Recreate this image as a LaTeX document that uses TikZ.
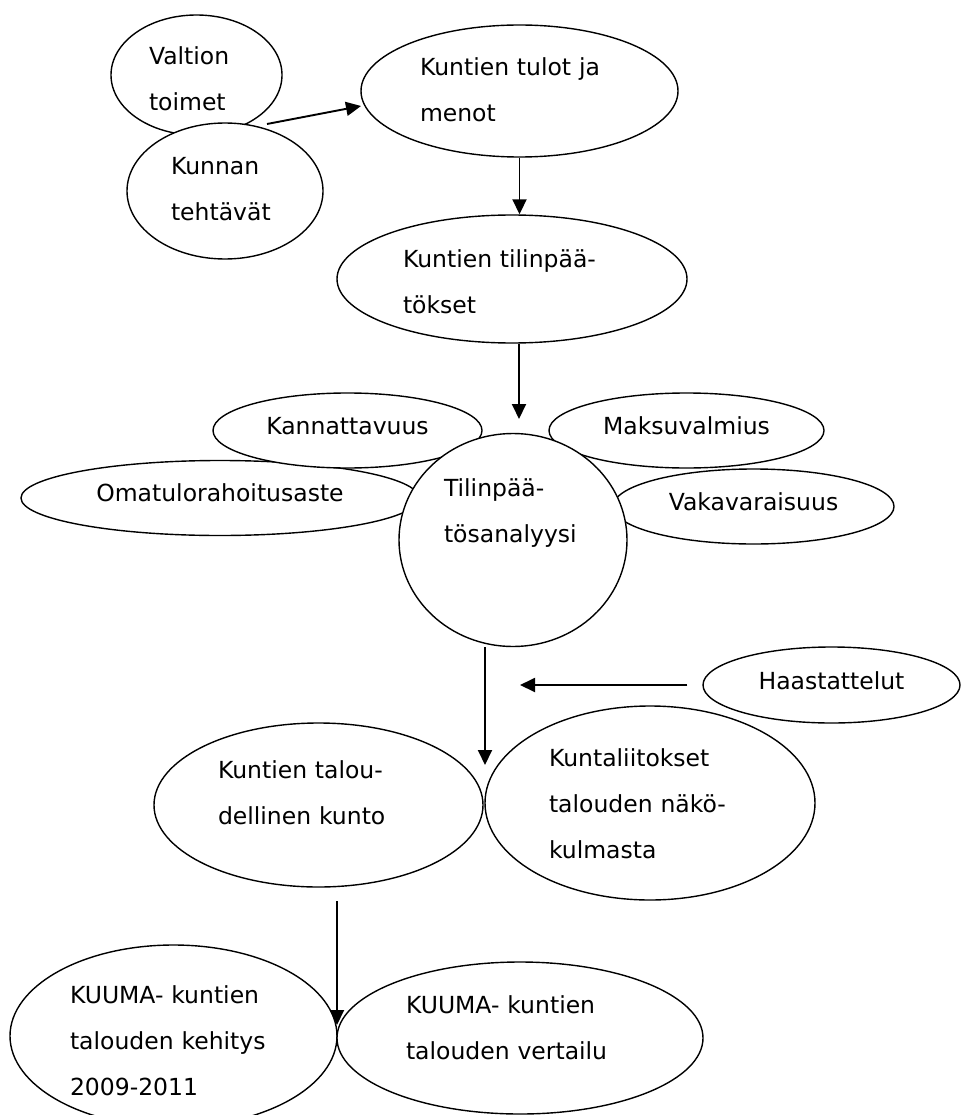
\documentclass[tikz,border=0pt]{standalone}
\usepackage{fontspec}
\setmainfont{DejaVu Sans}
\usetikzlibrary{shapes.geometric,arrows.meta}

\tikzset{
    bubble/.style={ellipse, draw, fill=white, line width=1.4pt, inner sep=0pt,
        align=left, text height=19pt, font=\fontsize{23.5}{46}\selectfont},
    flow/.style={line width=1.9pt, -{Triangle[length=15pt,width=14pt]}}
}

\begin{document}
\begin{tikzpicture}[x=1pt, y=-1pt]
        \useasboundingbox (0,0) rectangle (965,1115);

        % Starting points
        \node[bubble, minimum width=171, minimum height=120, text width=95pt, text depth=39pt] (valtio) at (196.5,75) {Valtion\\toimet};
        \node[bubble, minimum width=196, minimum height=136, text width=108pt, text depth=51pt] (kunta) at (225,191) {Kunnan\\tehtävät};
        \node[bubble, minimum width=317, minimum height=132, text width=199pt, text depth=49pt] (tulot) at (519.5,91) {Kuntien tulot ja\\menot};
        \node[bubble, minimum width=350, minimum height=128, text width=218pt, text depth=43pt] (tilit) at (512,279) {Kuntien tilinpää-\\tökset};

        % Key figures round the analysis
        \node[bubble, minimum width=398, minimum height=75, text depth=12pt] (omarah) at (220,498) {Omatulorahoitusaste};
        \node[bubble, minimum width=269, minimum height=75, text depth=12pt] (kannat) at (347.5,430.5) {Kannattavuus};
        \node[bubble, minimum width=275, minimum height=75, text depth=12pt] (maksu) at (686.5,430.5) {Maksuvalmius};
        \node[bubble, minimum width=281, minimum height=75, text depth=12pt] (vakava) at (753.5,506.5) {Vakavaraisuus};
        \node[bubble, minimum width=228, minimum height=213, text width=138pt, text depth=107pt] (analyysi) at (513,540) {Tilinpää-\\tösanalyysi};
        \node[bubble, minimum width=257, minimum height=76, text depth=11pt] (haast) at (831.5,685) {Haastattelut};

        % Results
        \node[bubble, minimum width=329, minimum height=164, text width=201pt, text depth=73pt] (kunto) at (318.5,805) {Kuntien talou-\\dellinen kunto};
        \node[bubble, minimum width=330, minimum height=194, text width=202pt, text depth=93pt] (liitos) at (650,803) {Kuntaliitokset\\talouden näkö-\\kulmasta};
        \node[bubble, minimum width=327, minimum height=182, text width=207pt, text depth=85pt] (kehitys) at (173.5,1036) {KUUMA- kuntien\\talouden kehitys\\2009-2011};
        \node[bubble, minimum width=366, minimum height=152, text width=228pt, text depth=69pt] (vertailu) at (520,1038) {KUUMA- kuntien\\talouden vertailu};

        % Arrows
        \coordinate (A) at (267,124);
        \coordinate (B) at (361,106);
        \coordinate (C) at (519,419);
        \coordinate (D) at (520,685);
        \coordinate (E) at (485,765);
        \coordinate (F) at (337,901);
        \coordinate (G) at (337,1025);
        \draw[flow] (A) -- (B);
        \draw[flow] (tulot.south) -- (tulot.south |- tilit.north);
        \draw[flow] (C |- tilit.south) -- (C);
        \draw[flow] ([xshift=-15pt]haast.west) -- (D);
        \draw[flow] (E |- analyysi.south) -- (E);
        \draw[flow] (F) -- (G);
    \end{tikzpicture}
\end{document}
